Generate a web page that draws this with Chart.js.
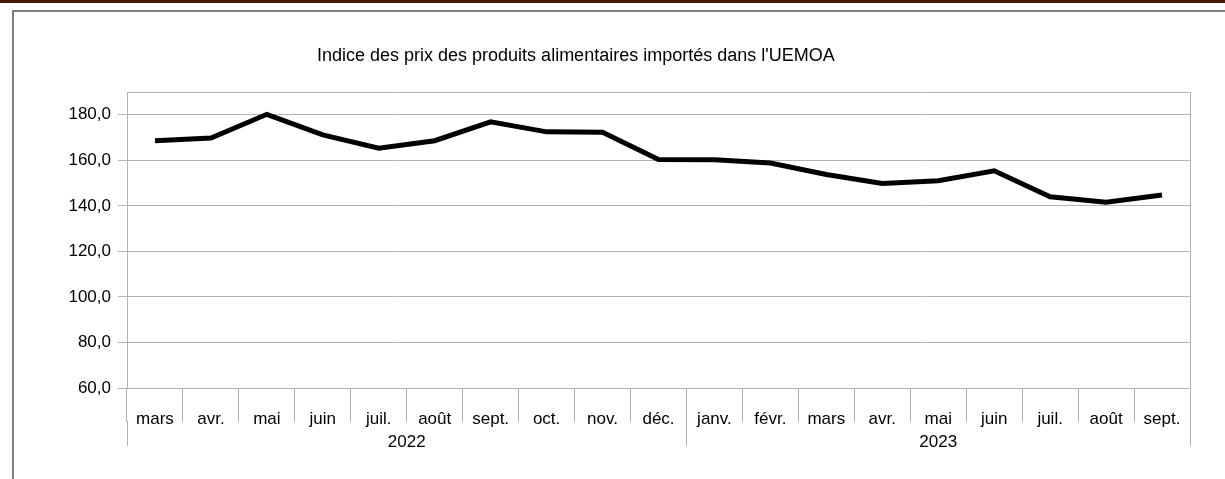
<!DOCTYPE html>
<html>
<head>
<meta charset="utf-8">
<script src="https://cdn.jsdelivr.net/npm/chart.js@4.4.7/dist/chart.umd.min.js"></script>
<style>
  body { margin: 0; background: #fff; width: 1225px; height: 479px; overflow: hidden; position: relative; font-family: "Liberation Sans", Arial, sans-serif; }
  #bande { position: absolute; left: 0; top: 0; width: 1225px; height: 3px; background: #4a1606; }
  #cadre { position: absolute; left: 12px; top: 10px; width: 1300px; height: 600px; border-left: 2px solid #808080; border-top: 2px solid #808080; }
  #titre { position: absolute; left: 317px; top: 45px; font-size: 18px; line-height: 20px; color: #000; white-space: nowrap; }
  #zone { position: absolute; left: 0; top: 0; width: 1225px; height: 479px; }
</style>
</head>
<body>
<div id="bande"></div>
<div id="cadre"></div>
<div id="zone"><canvas id="graph" width="1225" height="479"></canvas></div>
<div id="titre">Indice des prix des produits alimentaires importés dans l'UEMOA</div>
<script>
  const mois = ["mars", "avr.", "mai", "juin", "juil.", "août", "sept.", "oct.", "nov.", "déc.",
                "janv.", "févr.", "mars", "avr.", "mai", "juin", "juil.", "août", "sept."];
  const indice = [168.6, 169.8, 180.2, 171.2, 165.3, 168.6, 176.9, 172.5, 172.3, 160.4,
                  160.2, 158.8, 153.8, 149.8, 151.0, 155.4, 144.0, 141.6, 144.8];
  const annees = ["2022", "2023"];
  const moisParAnnee = [10, 9];
  const graduationsY = [60, 80, 100, 120, 140, 160, 180];
  const maxY = 190;

  const gris = "#b3b3b3";
  const police = { family: "'Liberation Sans', Arial, sans-serif", size: 17 };

  // positions des annees sur l'axe (centre et bornes)
  const bornes = [-0.5];
  const centres = [];
  let debut = 0;
  moisParAnnee.forEach(n => {
    centres.push(debut + (n - 1) / 2);
    debut += n;
    bornes.push(debut - 0.5);
  });

  const ctx = document.getElementById("graph").getContext("2d");
  const graph = new Chart(ctx, {
    type: "line",
    data: {
      labels: mois,
      datasets: [{
        data: indice,
        borderColor: "#000",
        borderWidth: 5,
        pointRadius: 0,
        tension: 0,
        fill: false,
        xAxisID: "x",
        yAxisID: "y"
      }]
    },
    options: {
      responsive: false,
      animation: false,
      layout: { padding: { left: 20, right: 35, top: 92, bottom: 25 } },
      plugins: { legend: { display: false }, tooltip: { enabled: false }, title: { display: false } },
      scales: {
        x: {
          type: "category",
          position: "bottom",
          offset: true,
          grid: {
            offset: true,
            color: c => c.type !== "tick" ? gris : "transparent",
            tickColor: gris,
            tickLength: 34,
            lineWidth: 1
          },
          border: { color: gris },
          // mirror : evite que les libelles soient coupes par la zone de l'axe
          ticks: { color: "#000", font: police, padding: -42, maxRotation: 0, autoSkip: false, mirror: true },
          afterFit: s => { s.height = 33; }
        },
        x2: {
          type: "linear",
          position: "bottom",
          min: -0.5,
          max: 18.5,
          grid: {
            drawOnChartArea: false,
            tickLength: 25,
            tickColor: c => (c.tick && bornes.includes(c.tick.value)) ? gris : "transparent"
          },
          border: { display: false },
          afterBuildTicks: s => {
            s.ticks = bornes.concat(centres).sort((a, b) => a - b).map(v => ({ value: v }));
          },
          ticks: {
            color: "#000",
            font: police,
            padding: -14,
            maxRotation: 0,
            autoSkip: false,
            callback: v => {
              const i = centres.indexOf(v);
              return i >= 0 ? annees[i] : "";
            }
          },
          afterFit: s => { s.height = 33; }
        },
        y: {
          type: "linear",
          min: graduationsY[0],
          max: maxY,
          afterBuildTicks: s => {
            s.ticks = graduationsY.concat([maxY]).map(v => ({ value: v }));
          },
          grid: {
            color: gris,
            tickColor: c => (c.tick && graduationsY.includes(c.tick.value)) ? gris : "transparent",
            tickLength: 9,
            lineWidth: 1
          },
          border: { color: gris },
          ticks: {
            color: "#000",
            font: police,
            padding: 7,
            callback: v => graduationsY.includes(v) ? v.toFixed(1).replace(".", ",") : ""
          },
          afterFit: s => { s.width = 107; }
        }
      }
    }
  });
</script>
</body>
</html>
